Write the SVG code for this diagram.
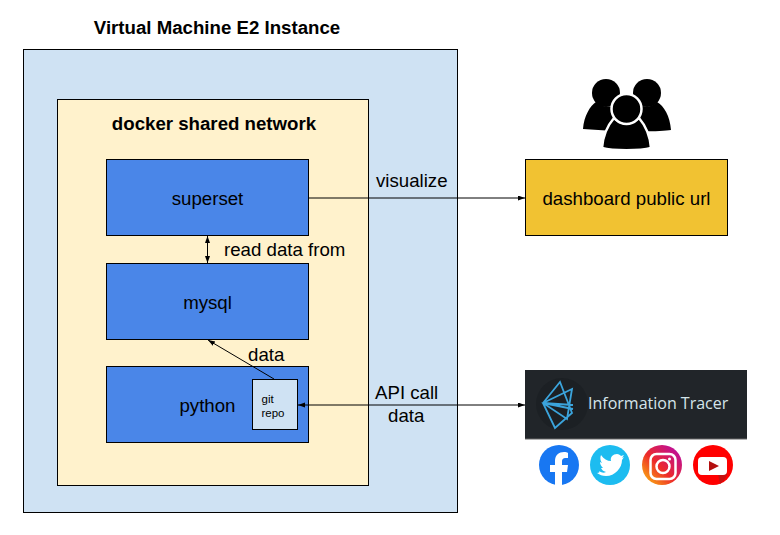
<svg xmlns="http://www.w3.org/2000/svg" width="780" height="535" viewBox="0 0 780 535">
<defs>
<style>
text{font-family:"Liberation Sans",Arial,sans-serif;fill:#000}
.lbl{font-size:18.67px}
.box{fill:#4a86e8;stroke:#000;stroke-width:1}
.c{fill:none;stroke:#000;stroke-width:1}
.p{fill:#000;stroke:#fff;stroke-width:2.500}
</style>
<marker id="a" markerWidth="8" markerHeight="6" refX="7" refY="2.500" orient="auto-start-reverse" markerUnits="userSpaceOnUse"><path d="M0 0L7 2.500L0 5Z" fill="#000"/></marker>
<linearGradient id="ig" x1="0" y1="1" x2="1" y2="0"><stop offset="0" stop-color="#fdc70c"/><stop offset=".45" stop-color="#ed2a2a"/><stop offset="1" stop-color="#b007b8"/></linearGradient>
</defs>
<rect width="780" height="535" fill="#fff"/>
<g id="vm"><rect x="23.500" y="49.500" width="434" height="463" fill="#cfe2f3" stroke="#000"/>
<text x="217" y="34" text-anchor="middle" font-weight="bold" class="lbl">Virtual Machine E2 Instance</text></g>
<g id="network"><rect x="57.500" y="99.500" width="311" height="386" fill="#fff2cc" stroke="#000"/>
<text x="214" y="129.500" text-anchor="middle" font-weight="bold" class="lbl">docker shared network</text></g>
<g id="superset"><rect class="box" x="106.500" y="159.500" width="202" height="76"/><text class="lbl" x="207.500" y="205" text-anchor="middle">superset</text></g>
<g id="mysql"><rect class="box" x="106.500" y="263.500" width="202" height="76"/><text class="lbl" x="207.500" y="308.500" text-anchor="middle">mysql</text></g>
<g id="python"><rect class="box" x="106.500" y="366.500" width="202" height="76"/><text class="lbl" x="207.500" y="412" text-anchor="middle">python</text></g>
<g id="git-repo"><rect x="252.500" y="379.500" width="45" height="50" fill="#cfe2f3" stroke="#000"/><text x="261.500" y="403" font-size="11.500px">git</text><text x="261.500" y="417" font-size="11.500px">repo</text></g>
<g id="dashboard"><rect x="525.500" y="159.500" width="202" height="76" fill="#f1c232" stroke="#000"/><text class="lbl" x="626.500" y="204.500" text-anchor="middle">dashboard public url</text></g>
<g id="users">
<path d="M583 129C584 116 590 106 596 102C604 108 610 108 617 104L640 104C644 108 650 108 657 102C664 106 670 116 671 130C660 132 620 132 583 129Z" fill="#000"/>
<circle cx="606" cy="93" r="14" fill="#000"/>
<circle cx="647" cy="93" r="14" fill="#000"/>
<path class="p" d="M602 148C603 134 608 125 614 118C622 125 630 125 639 118C645 125 650 134 651 148C640 151 613 151 602 148Z"/>
<circle class="p" cx="626.500" cy="109" r="15"/>
</g>
<g id="information-tracer">
<rect x="525" y="370" width="222" height="69" fill="#212529"/><rect x="525" y="438.500" width="222" height="1" fill="#666"/>
<circle cx="562" cy="404" r="26" fill="#1c2024"/>
<path d="M543 403L560 382L572 413L555 428ZM543 403L572 389L567 419ZM543 403L573 405M543 403L573 409" fill="none" stroke="#3ba4dc" stroke-width="1.800"/>
<text x="588" y="409" font-size="16px" style="fill:#d4e4ea;font-family:'Open Sans','Liberation Sans',sans-serif">Information Tracer</text>
</g>
<g id="social">
<circle cx="559" cy="465" r="20" fill="#1877f2"/>
<path d="M555 485V472H550V465H555V461C555 455 559 452 564 452C566 452 567 452 568 453V458H566C563 458 562 459 562 462V465H568L567 472H562V485Z" fill="#fff"/>
<circle cx="610" cy="465" r="20" fill="#1dbcf0"/>
<path d="M599 471C602 473 604 473 606 472C603 471 602 470 601 468H603C601 466 600 464 600 462L602 463C600 460 600 458 601 455C604 459 607 461 611 461C610 457 613 454 617 454C619 454 620 455 621 456L624 455L622 458L624 457L622 460C622 468 615 476 606 476C602 476 600 475 597 473C599 473 600 472 599 471Z" fill="#fff"/>
<circle cx="662" cy="465" r="20" fill="url(#ig)"/>
<rect x="650.500" y="454" width="25" height="25" rx="6" fill="none" stroke="#fff" stroke-width="2.500"/>
<circle cx="663" cy="466.500" r="6.500" fill="none" stroke="#fff" stroke-width="2.500"/>
<circle cx="669.500" cy="459" r="1.500" fill="#fff"/>
<circle cx="713" cy="465" r="20" fill="#f00"/>
<path d="M718 474L727 463V475A20 20 0 0 1 720 484Z" fill="#c81010"/>
<path d="M702 457H723A4 4 0 0 1 727 461V471A4 4 0 0 1 723 475H702A4 4 0 0 1 698 471V461A4 4 0 0 1 702 457Z" fill="#fff"/>
<path d="M709 461L719 466L709 471Z" fill="#b30f0f"/>
</g>
<g id="connectors">
<path class="c" d="M308 198H525" marker-end="url(#a)"/>
<path class="c" d="M207.500 236V263" marker-start="url(#a)" marker-end="url(#a)"/>
<path class="c" d="M274 379L208 340" marker-end="url(#a)"/>
<path class="c" d="M298 405H525" marker-start="url(#a)" marker-end="url(#a)"/>
</g>
<g id="labels">
<text class="lbl" x="376" y="186.500">visualize</text>
<text class="lbl" x="224" y="255.500">read data from</text>
<text class="lbl" x="248" y="361">data</text>
<text class="lbl" x="375" y="399">API call</text>
<text class="lbl" x="388" y="421.500">data</text>
</g>
</svg>
